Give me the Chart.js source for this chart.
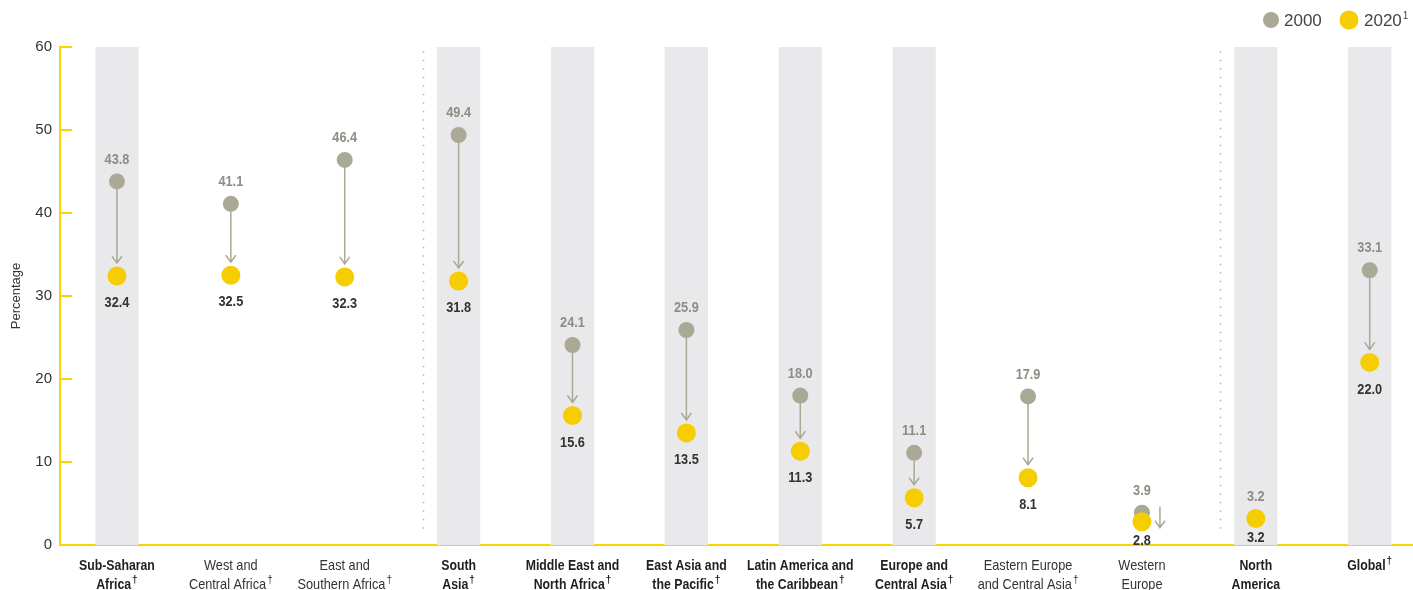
<!DOCTYPE html>
<html>
<head>
<meta charset="utf-8">
<script src="https://cdn.jsdelivr.net/npm/chart.js@4.4.1/dist/chart.umd.min.js"></script>
<style>
  html, body { margin: 0; padding: 0; background: #fff; }
  #wrap { width: 1413px; height: 590px; }
</style>
</head>
<body>
<div id="wrap"><canvas id="chart"></canvas></div>
<script>
// regions, 2000 vs 2020 (percent)
const regions = [
  ['Sub-Saharan', 'Africa†'],
  ['West and', 'Central Africa†'],
  ['East and', 'Southern Africa†'],
  ['South', 'Asia†'],
  ['Middle East and', 'North Africa†'],
  ['East Asia and', 'the Pacific†'],
  ['Latin America and', 'the Caribbean†'],
  ['Europe and', 'Central Asia†'],
  ['Eastern Europe', 'and Central Asia†'],
  ['Western', 'Europe'],
  ['North', 'America'],
  ['Global†']
];
// top-level regions get bold labels and a shaded band
const isMainRegion = [true, false, false, true, true, true, true, true, false, false, true, true];
const groupStarts = [3, 10];

const values2000 = [43.8, 41.1, 46.4, 49.4, 24.1, 25.9, 18.0, 11.1, 17.9, 3.9, 3.2, 33.1];
const values2020 = [32.4, 32.5, 32.3, 31.8, 15.6, 13.5, 11.3, 5.7, 8.1, 2.8, 3.2, 22.0];
const yTicks = [0, 10, 20, 30, 40, 50, 60];

const GREY = '#a9a995';
const YELLOW = '#f5cd00';
const AXIS = '#f8d400';
const BAND = '#e9e9eb';
const FONT = "'Liberation Sans', Arial, sans-serif";

// condensed text: Liberation Sans squeezed horizontally
function narrowText(ctx, text, x, y, font, squeeze, align) {
  ctx.save();
  ctx.font = font;
  ctx.textAlign = 'left';
  ctx.textBaseline = 'middle';
  const w = ctx.measureText(text).width * squeeze;
  const left = align === 'center' ? x - w / 2 : x;
  ctx.translate(left, y);
  ctx.scale(squeeze, 1);
  ctx.fillText(text, 0, 0);
  ctx.restore();
  return w;
}

function textWidth(ctx, text, font, squeeze) {
  ctx.save();
  ctx.font = font;
  const w = ctx.measureText(text).width * squeeze;
  ctx.restore();
  return w;
}

function drawArrow(ctx, x, y1, y2) {
  ctx.save();
  ctx.strokeStyle = GREY;
  ctx.lineWidth = 1.5;
  ctx.beginPath();
  ctx.moveTo(x, y1);
  ctx.lineTo(x, y2);
  ctx.moveTo(x - 5, y2 - 7);
  ctx.lineTo(x, y2);
  ctx.lineTo(x + 5, y2 - 7);
  ctx.stroke();
  ctx.restore();
}

const backdrop = {
  id: 'backdrop',
  beforeDatasetsDraw(chart) {
    const { ctx, chartArea, scales: { x, y } } = chart;
    const step = x.getPixelForValue(1) - x.getPixelForValue(0);
    ctx.save();
    // shaded bands
    ctx.fillStyle = BAND;
    isMainRegion.forEach((on, i) => {
      if (!on) return;
      const cx = x.getPixelForValue(i);
      ctx.fillRect(cx - step * 0.19, y.getPixelForValue(60), step * 0.38, y.getPixelForValue(0) - y.getPixelForValue(60));
    });
    // dotted separators
    ctx.strokeStyle = '#b4b4b4';
    ctx.lineWidth = 1.5;
    ctx.setLineDash([1.5, 7]);
    groupStarts.forEach(g => {
      const px = Math.round(x.getPixelForValue(g) - 36) + 0.5;
      ctx.beginPath();
      ctx.moveTo(px, y.getPixelForValue(59.5));
      ctx.lineTo(px, y.getPixelForValue(1.5));
      ctx.stroke();
    });
    ctx.setLineDash([]);
    // inward tick marks on the y axis
    ctx.strokeStyle = AXIS;
    ctx.lineWidth = 2;
    yTicks.forEach(v => {
      const py = y.getPixelForValue(v);
      ctx.beginPath();
      ctx.moveTo(chartArea.left, py);
      ctx.lineTo(chartArea.left + 12, py);
      ctx.stroke();
    });
    ctx.restore();

    // arrows from 2000 to 2020
    values2000.forEach((v0, i) => {
      const v1 = values2020[i];
      if (v0 === v1) return;
      const cx = x.getPixelForValue(i);
      const y0 = y.getPixelForValue(v0);
      const y1 = y.getPixelForValue(v1);
      if (y1 - y0 > 25) {
        drawArrow(ctx, cx, y0 + 6, y1 - 13);
      } else {
        drawArrow(ctx, cx + 18, y0 - 6, y1 + 6);
      }
    });
  }
};

const annotations = {
  id: 'annotations',
  afterDraw(chart) {
    const { ctx, scales: { x, y } } = chart;
    ctx.save();
    // value labels
    const valFont = `bold 15px ${FONT}`;
    values2000.forEach((v, i) => {
      const cx = x.getPixelForValue(i);
      ctx.fillStyle = '#8d8d85';
      narrowText(ctx, v.toFixed(1), cx, y.getPixelForValue(v) - 22, valFont, 0.85, 'center');
      const v1 = values2020[i];
      ctx.fillStyle = '#333333';
      narrowText(ctx, v1.toFixed(1), cx, y.getPixelForValue(v1) + (v1 < 4 ? 19 : 27), valFont, 0.85, 'center');
    });

    // category labels with superscript daggers
    regions.forEach((lines, i) => {
      const cx = x.getPixelForValue(i);
      const bold = isMainRegion[i];
      const font = `${bold ? 'bold ' : ''}15px ${FONT}`;
      const supFont = `${bold ? 'bold ' : ''}10px ${FONT}`;
      const squeeze = bold ? 0.82 : 0.85;
      ctx.fillStyle = bold ? '#1f1f1f' : '#333333';
      lines.forEach((line, k) => {
        const py = 566 + k * 19;
        const dagger = line.endsWith('†');
        const text = dagger ? line.slice(0, -1) : line;
        const w = textWidth(ctx, text, font, squeeze);
        const dw = dagger ? textWidth(ctx, '†', supFont, 1) + 1 : 0;
        const left = cx - (w + dw) / 2;
        narrowText(ctx, text, left, py, font, squeeze, 'left');
        if (dagger) narrowText(ctx, '†', left + w + 1, py - 5, supFont, 1, 'left');
      });
    });

    // legend
    ctx.textAlign = 'left';
    ctx.textBaseline = 'middle';
    ctx.fillStyle = GREY;
    ctx.beginPath(); ctx.arc(1271, 20, 8, 0, Math.PI * 2); ctx.fill();
    ctx.fillStyle = YELLOW;
    ctx.beginPath(); ctx.arc(1349, 20, 9.5, 0, Math.PI * 2); ctx.fill();
    ctx.fillStyle = '#444444';
    ctx.font = `17px ${FONT}`;
    ctx.fillText('2000', 1284, 21);
    const w = ctx.measureText('2020').width;
    ctx.fillText('2020', 1364, 21);
    ctx.font = `10px ${FONT}`;
    ctx.fillText('1', 1364 + w + 1, 16);
    ctx.restore();
  }
};

new Chart(document.getElementById('chart'), {
  type: 'scatter',
  data: {
    datasets: [
      {
        label: '2020',
        data: values2020.map((v, i) => ({ x: i, y: v })),
        backgroundColor: YELLOW,
        pointRadius: 9.5,
        pointBorderWidth: 0,
        order: 0
      },
      {
        label: '2000',
        data: values2000.map((v, i) => ({ x: i, y: v })),
        backgroundColor: GREY,
        pointRadius: 8,
        pointBorderWidth: 0,
        order: 1
      }
    ]
  },
  options: {
    responsive: true,
    maintainAspectRatio: false,
    animation: false,
    layout: { autoPadding: false, padding: { top: 47, right: 0, bottom: 0, left: 0 } },
    plugins: { legend: { display: false }, tooltip: { enabled: false } },
    scales: {
      x: {
        type: 'linear',
        min: -0.5,
        max: 11.38,
        grid: { display: false },
        ticks: { display: false },
        border: { color: AXIS, width: 2 },
        afterFit: s => { s.height = 45; }
      },
      y: {
        min: 0,
        max: 60,
        grid: { display: false },
        border: { color: AXIS, width: 2 },
        ticks: {
          stepSize: 10,
          padding: 0,
          color: '#333333',
          font: { family: FONT, size: 15 }
        },
        title: {
          display: true,
          text: 'Percentage',
          color: '#333333',
          font: { family: FONT, size: 13 },
          padding: { top: 9, bottom: 0 }
        },
        afterFit: s => { s.width = 60; }
      }
    }
  },
  plugins: [backdrop, annotations]
});
</script>
</body>
</html>
